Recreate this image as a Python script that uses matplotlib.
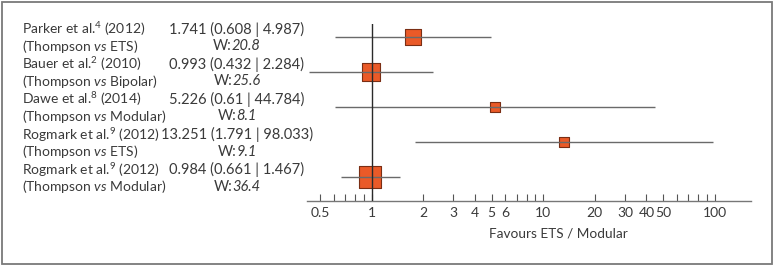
import matplotlib
matplotlib.use("Agg")
import matplotlib.pyplot as plt
import matplotlib.transforms as mtransforms
import matplotlib.patches as mpatches
import numpy as np

# ---- data ----
authors = ["Parker et al.", "Bauer et al.", "Dawe et al.", "Rogmark et al.", "Rogmark et al."]
refs = ["4", "2", "8", "9", "9"]
years = ["2012", "2010", "2014", "2012", "2012"]
comparators = ["ETS", "Bipolar", "Modular", "ETS", "Modular"]
odds_ratio = [1.741, 0.993, 5.226, 13.251, 0.984]
ci_lower = [0.608, 0.432, 0.61, 1.791, 0.661]
ci_upper = [4.987, 2.284, 44.784, 98.033, 1.467]
weights = [20.8, 25.6, 8.1, 9.1, 36.4]
major_ticks = [0.5, 1, 2, 3, 4, 5, 6, 10, 20, 30, 40, 50, 100]
minor_ticks = [0.6, 0.7, 0.8, 0.9, 7, 8, 9, 60, 70, 80, 90]
x_label = "Favours ETS / Modular"

FONT = "Lato"
plt.rcParams['font.family'] = [FONT, 'DejaVu Sans']
plt.rcParams['mathtext.fontset'] = 'custom'
plt.rcParams['mathtext.rm'] = FONT
plt.rcParams['mathtext.it'] = FONT + ':italic'
plt.rcParams['mathtext.bf'] = FONT + ':bold'

W, H, DPI = 773, 265, 100
fig = plt.figure(figsize=(W / DPI, H / DPI), dpi=DPI)
fig.patch.set_facecolor('white')

TEXT_C = '#3a3a3a'
SQ_FILL = '#EA5A28'
SQ_EDGE = '#7a2e14'
LINE_C = '#6a6a6a'

ax_left, ax_right = 307, 750.7
ax_top, ax_bottom = 24, 201
ax = fig.add_axes([ax_left / W, 1 - ax_bottom / H, (ax_right - ax_left) / W, (ax_bottom - ax_top) / H])
ax.set_xscale('log')
ax.set_xlim(0.42, 162)
n = len(authors)
ax.set_ylim(-0.674, n - 1 + 0.361)

ys = np.arange(n)[::-1]

for i in range(n):
    y = ys[i]
    ax.plot([ci_lower[i], ci_upper[i]], [y, y], color=LINE_C, lw=1.0, zorder=3, solid_capstyle='butt')
    side_px = 3.6 * np.sqrt(weights[i])
    side_pt = side_px * 72 / DPI
    ax.scatter([odds_ratio[i]], [y], marker='s', s=side_pt ** 2, facecolor=SQ_FILL,
               edgecolor=SQ_EDGE, linewidth=0.8, zorder=2)

ax.axvline(1, color='#2a2a2a', lw=1.0, zorder=4)

for s in ['top', 'left', 'right']:
    ax.spines[s].set_visible(False)
ax.spines['bottom'].set_color('#777777')
ax.spines['bottom'].set_linewidth(1.0)
ax.set_yticks([])
ax.set_xticks(major_ticks)
ax.set_xticklabels([f"{t:g}" for t in major_ticks])
ax.set_xticks(minor_ticks, minor=True)
ax.xaxis.set_minor_formatter(matplotlib.ticker.NullFormatter())
ax.tick_params(axis='x', which='both', direction='in', length=5, width=0.8, color='#555555',
               labelsize=10, labelcolor=TEXT_C, pad=4.5)
ax.patch.set_alpha(0)

fig.text(558 / W, 1 - 233 / H, x_label, ha='center', va='center', fontsize=9.8, color=TEXT_C)

blend = mtransforms.blended_transform_factory(fig.transFigure, ax.transData)
t_up = mtransforms.offset_copy(blend, fig=fig, y=7.5, units='dots')
t_dn = mtransforms.offset_copy(blend, fig=fig, y=-9.5, units='dots')

FS_L = 10
FS = 10.5
renderer = fig.canvas.get_renderer()
for i in range(n):
    y = ys[i]
    fig.text(22 / W, y, f"{authors[i]}$^{{{refs[i]}}}$ ({years[i]})", transform=t_up,
             ha='left', va='center', fontsize=FS_L, color=TEXT_C)
    fig.text(22 / W, y, f"(Thompson $\\mathit{{vs}}$ {comparators[i]})", transform=t_dn,
             ha='left', va='center', fontsize=FS_L, color=TEXT_C)
    fig.text(237 / W, y, f"{odds_ratio[i]} ({ci_lower[i]} | {ci_upper[i]})", transform=t_up,
             ha='center', va='center', fontsize=FS, color=TEXT_C)
    # "W:" regular + italic weight value, centred together at x=237px
    tw = fig.text(0, y, "W:", transform=t_dn, ha='left', va='center', fontsize=FS, color=TEXT_C)
    tv = fig.text(0, y, f"{weights[i]}", transform=t_dn, ha='left', va='center', fontsize=FS,
                  color=TEXT_C, style='italic')
    w1 = tw.get_window_extent(renderer).width
    w2 = tv.get_window_extent(renderer).width
    x0 = 237 - (w1 + w2) / 2
    tw.set_x(x0 / W)
    tv.set_x((x0 + w1) / W)

fig.add_artist(mpatches.Rectangle((1.5 / W, 1.5 / H), 1 - 3 / W, 1 - 3 / H, transform=fig.transFigure,
                                  fill=False, edgecolor='#7a7a7a', linewidth=1.3))

fig.savefig("out.png", dpi=DPI, facecolor='white')
